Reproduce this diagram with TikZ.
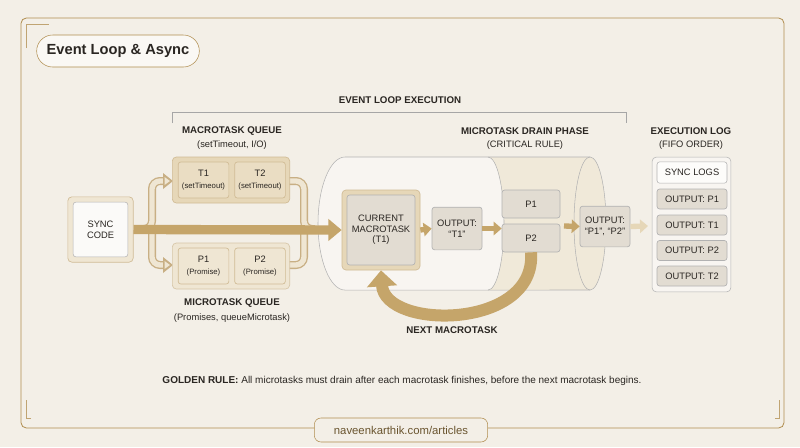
\documentclass[tikz,border=0pt]{standalone}
\usepackage{fontspec}
\setmainfont{Liberation Sans}
\usetikzlibrary{arrows.meta}
\definecolor{bg}{HTML}{F3EFE7}
\definecolor{gold}{HTML}{B08D4F}
\definecolor{tan}{HTML}{E6D7B8}
\definecolor{tanl}{HTML}{EFE6D3}
\definecolor{arr}{HTML}{C5A56A}
\definecolor{boxg}{HTML}{E2DCD2}
\definecolor{txt}{HTML}{2A2622}
\begin{document}
\begin{tikzpicture}[x=0.75pt,y=-0.75pt,
  every node/.style={text=txt,font=\fontsize{7}{8}\selectfont,align=center,inner sep=0},
  hdr/.style={font=\fontsize{7.3}{9}\selectfont\bfseries},
  cont/.style={draw=gold!60,fill=tan,rounded corners=3pt,line width=0.5pt},
  contl/.style={draw=gold!50,fill=tanl,rounded corners=3pt,line width=0.5pt},
  item/.style={draw=gold!60,fill=tanl,rounded corners=2pt,line width=0.5pt},
  gbox/.style={draw=gray!60,fill=boxg,rounded corners=2pt,line width=0.5pt},
  fat/.style={-{Triangle[length=10pt,width=16pt]},line width=7pt,draw=arr},
  mid/.style={-{Triangle[length=6pt,width=10pt]},line width=4pt,draw=arr},
  hollow/.style={line width=6pt,draw=gold!70,rounded corners=6pt},
  hollowin/.style={line width=4pt,draw=tanl,rounded corners=6pt}]
\fill[bg] (0,0) rectangle (800,447);
\useasboundingbox (0,0) rectangle (800,447);
% frame
\draw[gold,line width=0.6pt,rounded corners=4pt] (315,428) -- (21,428) -- (21,18) -- (784,18) -- (784,428) -- (488,428);
\draw[gold!80,line width=0.4pt] (26,48)--(26,24)--(49,24) (31,418)--(26,418)--(26,400) (775,418)--(779,418)--(779,400);
\node (title) [draw=gold,fill=white!55!bg,rounded corners=12pt,minimum width=122pt,minimum height=24pt,font=\fontsize{11}{13}\selectfont\bfseries] at (118,51) {Event Loop \& Async};
\node (foot) [draw=gold,fill=bg,rounded corners=5pt,minimum width=130pt,minimum height=18pt,text=gold!60!black,font=\fontsize{8.5}{10}\selectfont] at (401,430) {naveenkarthik.com/articles};
% bracket
\draw[gray!70,line width=0.5pt] (172,123)--(172,112)--(626,112)--(626,123);
\node[hdr] (elx) at (400,100) {EVENT LOOP EXECUTION};
% cylinder
\fill[white!40!bg] (345,157) -- (488,157) arc[x radius=12pt,y radius=49.9pt,start angle=90,end angle=-90] -- (345,290) arc[x radius=20.25pt,y radius=49.9pt,start angle=270,end angle=90] -- cycle;
\fill[tanl!70!bg] (488,157) -- (590,157) arc[x radius=12pt,y radius=49.9pt,start angle=90,end angle=-90] -- (488,290) arc[x radius=12pt,y radius=49.9pt,start angle=-90,end angle=90] -- cycle;
\draw[gray!60,line width=0.4pt] (590,157) -- (345,157) arc[x radius=20.25pt,y radius=49.9pt,start angle=90,end angle=270] -- (590,290);
\draw[gray!60,line width=0.4pt] (488,157) arc[x radius=12pt,y radius=49.9pt,start angle=90,end angle=-90];
\draw[gray!60,line width=0.4pt] (590,223.5) ellipse[x radius=12pt,y radius=49.9pt];
% headers
\node[hdr] at (232,131) {MACROTASK QUEUE};
\node at (232,145) {(setTimeout, I/O)};
\node[hdr] at (232,303) {MICROTASK QUEUE};
\node at (232,318) {(Promises, queueMicrotask)};
\node[hdr] at (525,131) {MICROTASK DRAIN PHASE};
\node at (525,145) {(CRITICAL RULE)};
\node[hdr] at (691,131) {EXECUTION LOG};
\node at (691,145) {(FIFO ORDER)};
% branch arrows (hollow)
\draw[hollow] (135,229) -- (152,229) -- (152,181) -- (164,181);
\draw[hollow] (152,229) -- (152,265) -- (164,265);
\draw[hollowin] (135,229) -- (152,229) -- (152,181) -- (164,181);
\draw[hollowin] (152,229) -- (152,265) -- (164,265);
\fill[gold!70] (163,173)--(173,181)--(163,189)--cycle; \fill[tanl] (164.5,177)--(170,181)--(164.5,185)--cycle;
\fill[gold!70] (163,257)--(173,265)--(163,273)--cycle; \fill[tanl] (164.5,261)--(170,265)--(164.5,269)--cycle;
\draw[hollow] (288,181) -- (304,181) -- (304,229) -- (315,229);
\draw[hollow] (288,265) -- (304,265) -- (304,229);
\draw[hollowin] (288,181) -- (304,181) -- (304,229) -- (315,229);
\draw[hollowin] (288,265) -- (304,265) -- (304,229);
% queues
\node[cont,minimum width=88pt,minimum height=34.5pt] (mq) at (231,180) {};
\node[item,fill=tan!60!tanl,minimum width=38pt,minimum height=27pt] (t1) at (203.5,180) {T1\\[1pt]{\fontsize{5.8}{6.5}\selectfont(setTimeout)}};
\node[item,fill=tan!60!tanl,minimum width=38pt,minimum height=27pt] (t2) at (260,180) {T2\\[1pt]{\fontsize{5.8}{6.5}\selectfont(setTimeout)}};
\node[contl,minimum width=88pt,minimum height=34.5pt] (uq) at (231,266) {};
\node[item,minimum width=38pt,minimum height=27pt] (p1q) at (203.5,266) {P1\\[1pt]{\fontsize{5.8}{6.5}\selectfont(Promise)}};
\node[item,minimum width=38pt,minimum height=27pt] (p2q) at (260,266) {P2\\[1pt]{\fontsize{5.8}{6.5}\selectfont(Promise)}};
% sync code
\node[cont,fill=tanl,minimum width=49pt,minimum height=49pt] (so) at (100.5,229.5) {};
\node[draw=gray!60,fill=white!70!bg,rounded corners=2pt,minimum width=41pt,minimum height=41pt] (sync) at (100.5,229.5) {SYNC\\CODE};
% current macrotask
\node[cont,minimum width=58.5pt,minimum height=60pt] (cmo) at (381,230) {};
\node[gbox,minimum width=51pt,minimum height=52.5pt] (cur) at (381,230) {CURRENT\\MACROTASK\\(T1)};
% main arrow
\draw[fat] (so.east) -- (cmo.west);
\node[gbox,minimum width=37.5pt,minimum height=32pt] (o1) at (457,228.5) {OUTPUT:\\``T1''};
\draw[mid] (cmo.east) -- (o1.west);
\node[gbox,minimum width=43.5pt,minimum height=21pt] (p1) at (531,204) {P1};
\node[gbox,minimum width=43.5pt,minimum height=21pt] (p2) at (531,238) {P2};
\draw[mid] (o1.east) -- (p1.west|-o1.east);
\node[gbox,minimum width=37.5pt,minimum height=30.5pt] (o2) at (605,226.5) {OUTPUT:\\``P1'', ``P2''};
\draw[mid] (564,226) -- (o2.west);
\draw[mid,draw=tan] (o2.east) -- (648,226);
% next macrotask
\draw[line width=9pt,draw=arr,-{Triangle[length=12pt,width=22pt]}] (p2.south) .. controls (537,330) and (385,330) .. (cmo.south);
\node[hdr] (nm) at (452,330) {NEXT MACROTASK};
% log
\node[draw=gray!60,fill=white!40!bg,rounded corners=3pt,minimum width=59pt,minimum height=101pt] (log) at (691.5,224.5) {};
\node[draw=gray!60,fill=white!80!bg,rounded corners=2pt,minimum width=52.5pt,minimum height=16pt] (l0) at (692,172.5) {SYNC LOGS};
\node[gbox,minimum width=52.5pt,minimum height=15pt] (l1) at (692,199) {OUTPUT: P1};
\node[gbox,minimum width=52.5pt,minimum height=15pt] (l2) at (692,225) {OUTPUT: T1};
\node[gbox,minimum width=52.5pt,minimum height=15pt] (l3) at (692,250.5) {OUTPUT: P2};
\node[gbox,minimum width=52.5pt,minimum height=15pt] (l4) at (692,276) {OUTPUT: T2};
% golden rule
\node (gr) at (402,381) {\fontsize{7.5}{9}\selectfont\textbf{GOLDEN RULE:} All microtasks must drain after each macrotask finishes, before the next macrotask begins.};
\end{tikzpicture}
\end{document}
